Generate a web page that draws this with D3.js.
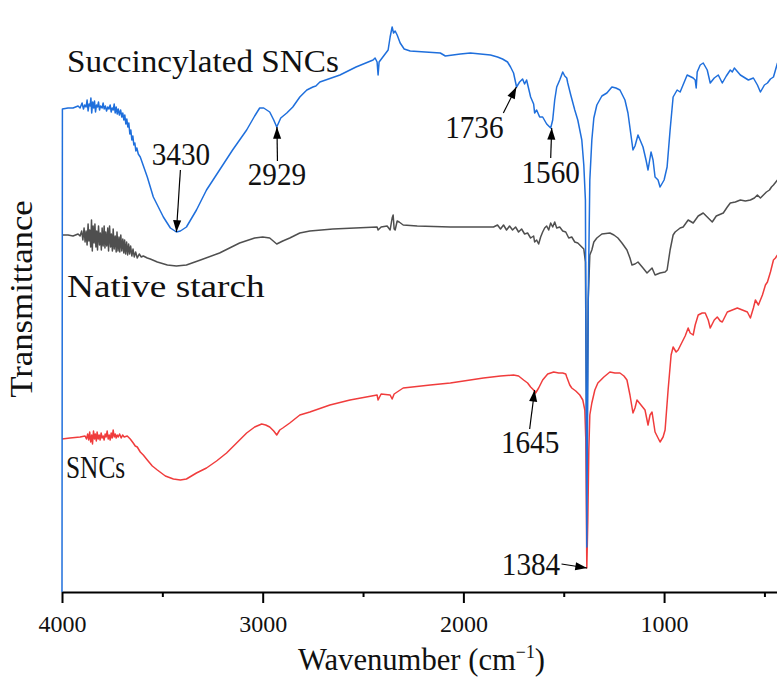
<!DOCTYPE html>
<html>
<head>
<meta charset="utf-8">
<script src="https://cdn.jsdelivr.net/npm/d3@7"></script>
<style>
  body { margin: 0; background: #fff; }
  svg { display: block; }
  svg text { font-family: 'Liberation Serif', 'DejaVu Serif', serif; }
</style>
</head>
<body>
<script>
// FTIR spectra, transmittance in arbitrary units (curves are offset)
var majorTicks = [4000, 3000, 2000, 1000];
var minorTicks = [3500, 2500, 1500, 500];

// Succincylated SNCs  [wavenumber, transmittance a.u.]
var succinylatedT = [
  [4000,0],[3998,483],[3970,484],[3945,484],[3920,486],[3910,484],[3900,489],[3893,483],[3887,487],[3880,485],
  [3875,492],[3870,481],[3865,488],[3860,486],[3856,494],[3852,479],[3847,490],[3842,484],[3838,491],[3833,480],
  [3828,487],[3823,485],[3818,490],[3813,482],[3808,486],[3800,484],[3795,489],[3790,483],[3784,486],[3778,481],
  [3772,485],[3766,483],[3760,487],[3755,480],[3750,484],[3745,482],[3740,488],[3735,479],[3730,485],[3725,478],
  [3720,483],[3714,477],[3708,482],[3702,475],[3697,479],[3692,472],[3687,477],[3682,468],[3677,473],[3672,465],
  [3667,469],[3662,458],[3657,462],[3652,452],[3647,456],[3642,447],[3637,449],[3632,441],[3627,444],[3620,438],
  [3610,435],[3575,415],[3545,395],[3495,375],[3460,364],[3430,360],[3410,361],[3380,365],[3330,382],[3280,402],
  [3215,422],[3150,442],[3080,462],[3040,476],[3015,484],[2995,484],[2965,480],[2945,472],[2930,465],[2910,474],
  [2880,479],[2850,485],[2815,495],[2780,502],[2750,505],[2735,506],[2715,510],[2615,517],[2535,525],[2450,532],
  [2440,534],[2430,530],[2425,517],[2420,530],[2405,534],[2375,542],[2365,555],[2355,565],[2348,559],[2340,561],
  [2330,557],[2315,549],[2295,543],[2265,541],[2115,539],[2090,536],[2015,538],[1965,539],[1865,537],[1830,535],
  [1805,533],[1780,530],[1765,525],[1750,519],[1735,505],[1720,510],[1705,513],[1695,508],[1685,512],[1665,495],
  [1650,488],[1645,479],[1635,482],[1620,475],[1605,475],[1585,468],[1565,464],[1555,472],[1545,492],[1535,505],
  [1520,512],[1505,520],[1495,516],[1485,514],[1480,509],[1465,497],[1445,482],[1430,472],[1410,452],[1400,427],
  [1392,392],[1385,45],[1378,292],[1370,412],[1360,452],[1350,474],[1335,487],[1310,496],[1285,499],[1260,505],
  [1240,504],[1220,502],[1195,492],[1180,479],[1155,442],[1145,446],[1130,457],[1105,445],[1090,432],[1080,422],
  [1065,440],[1055,432],[1045,415],[1030,412],[1020,405],[1000,412],[985,425],[970,462],[955,495],[935,502],
  [920,500],[885,517],[855,514],[845,512],[840,504],[835,520],[820,527],[805,529],[785,522],[770,509],
  [750,514],[730,517],[710,509],[690,516],[670,522],[660,520],[650,524],[620,517],[580,512],[555,514],
  [535,507],[520,500],[500,507],[485,509],[470,513],[455,515],[435,529]
];

// Native starch
var nativeT = [
  [4000,357],[3970,357],[3945,356],[3920,358],[3910,356],[3902,361],[3896,352],[3890,364],[3885,350],[3880,361],
  [3875,347],[3870,368],[3866,351],[3862,362],[3857,345],[3853,372],[3849,341],[3845,366],[3840,349],[3836,368],
  [3831,345],[3827,361],[3823,342],[3818,366],[3813,347],[3809,359],[3804,342],[3800,364],[3795,346],[3790,366],
  [3786,344],[3782,360],[3777,346],[3772,364],[3768,341],[3763,366],[3758,345],[3754,358],[3749,341],[3745,363],
  [3740,343],[3735,356],[3730,340],[3726,360],[3721,341],[3716,355],[3712,340],[3707,357],[3702,341],[3697,353],
  [3692,339],[3688,352],[3683,338],[3678,350],[3673,337],[3668,348],[3663,338],[3658,346],[3652,336],[3646,343],
  [3640,335],[3633,340],[3625,334],[3615,338],[3605,335],[3595,336],[3575,334],[3560,333],[3525,330],[3475,327],
  [3430,326],[3380,327],[3310,332],[3215,339],[3115,349],[3040,354],[3000,355],[2965,354],[2930,348],[2900,351],
  [2865,354],[2815,359],[2765,361],[2650,363],[2430,365],[2425,362],[2410,365],[2380,366],[2365,362],[2355,374],
  [2350,377],[2345,363],[2340,362],[2330,371],[2320,370],[2300,367],[2230,366],[2065,365],[1930,365],[1850,365],
  [1830,367],[1815,363],[1800,367],[1785,362],[1770,366],[1755,362],[1740,365],[1725,360],[1710,363],[1695,358],
  [1680,359],[1665,354],[1650,356],[1645,350],[1635,352],[1625,348],[1615,355],[1605,360],[1595,364],[1585,366],
  [1575,362],[1565,369],[1555,365],[1545,370],[1535,364],[1520,365],[1505,361],[1490,360],[1475,354],[1460,355],
  [1445,350],[1430,349],[1415,346],[1400,343],[1392,330],[1385,122],[1378,292],[1370,337],[1360,342],[1350,350],
  [1335,354],[1310,358],[1270,359],[1250,357],[1230,354],[1210,349],[1185,342],[1170,334],[1160,327],[1145,328],
  [1130,330],[1105,324],[1085,319],[1070,322],[1060,324],[1045,317],[1020,319],[995,320],[985,322],[970,342],
  [955,357],[945,360],[920,364],[905,365],[880,372],[855,369],[830,376],[805,379],[780,374],[760,370],
  [740,376],[705,379],[685,385],[670,389],[645,390],[620,392],[595,391],[570,392],[550,394],[535,397],
  [520,394],[505,397],[490,400],[475,402],[465,405],[455,407],[435,412]
];

// SNCs
var sncT = [
  [4000,153],[3960,154],[3910,155],[3885,156],[3878,153],[3872,158],[3867,152],[3862,160],[3857,150],[3852,157],
  [3848,148],[3843,161],[3838,153],[3834,158],[3829,151],[3825,160],[3820,153],[3815,157],[3810,152],[3805,159],
  [3800,154],[3795,156],[3790,152],[3785,158],[3780,155],[3775,161],[3770,153],[3765,157],[3760,152],[3755,159],
  [3750,154],[3745,162],[3740,155],[3735,158],[3730,154],[3725,157],[3720,155],[3713,158],[3705,154],[3698,157],
  [3690,155],[3675,156],[3660,153],[3645,149],[3635,146],[3625,145],[3610,140],[3595,137],[3575,132],[3550,126],
  [3525,122],[3485,116],[3445,113],[3410,112],[3380,113],[3330,119],[3280,124],[3230,131],[3180,139],[3130,149],
  [3080,159],[3040,165],[3005,168],[2985,167],[2965,165],[2945,161],[2930,157],[2915,162],[2900,164],[2865,169],
  [2815,177],[2765,180],[2665,187],[2565,192],[2430,197],[2425,192],[2410,198],[2365,197],[2355,193],[2345,198],
  [2330,200],[2300,204],[2165,207],[2065,209],[1900,214],[1815,216],[1750,217],[1725,216],[1700,212],[1680,209],
  [1665,205],[1650,202],[1640,199],[1625,204],[1605,212],[1580,218],[1550,220],[1525,219],[1505,219],[1490,218],
  [1485,215],[1470,207],[1460,204],[1440,201],[1420,197],[1405,192],[1395,182],[1390,152],[1385,24],[1380,72],
  [1375,142],[1370,177],[1360,189],[1345,202],[1330,209],[1300,215],[1270,220],[1245,219],[1220,219],[1200,216],
  [1185,212],[1170,197],[1155,179],[1145,184],[1135,192],[1115,187],[1095,182],[1080,167],[1070,177],[1060,180],
  [1045,160],[1030,154],[1020,150],[1005,155],[995,162],[980,202],[965,237],[955,245],[940,240],[930,242],
  [910,250],[895,256],[880,264],[870,259],[855,257],[845,267],[830,277],[810,279],[795,279],[780,272],
  [770,264],[750,272],[735,275],[720,271],[710,270],[695,276],[685,280],[660,282],[635,284],[610,282],
  [585,280],[570,274],[555,284],[545,292],[530,287],[510,297],[495,307],[485,310],[470,320],[455,332],
  [445,334],[435,337]
];

var peakWavenumbers = [3430, 2929, 1736, 1560, 1645, 1384];
var peakSeries = ["succ", "succ", "succ", "succ", "snc", "snc"];

var width = 777, height = 677;
var axisY = 592;
var font = "'Liberation Serif', 'DejaVu Serif', serif";
var colorBlue = "#1f6fdc", colorGray = "#4f4f4f", colorRed = "#f03c3c";

var svg = d3.select("body").append("svg")
    .attr("width", width)
    .attr("height", height);

var x = d3.scaleLinear().domain([4000, 400]).range([62, 784.5]);
var y = d3.scaleLinear().domain([0, 592]).range([axisY, 0]);

var line = d3.line()
    .x(function(d) { return x(d[0]); })
    .y(function(d) { return y(d[1]); });

// helper: SimSun-like halfwidth text (fixed advance per char)
function label(txt, px, py, size, adv, anchor) {
  return svg.append("text")
      .attr("x", px)
      .attr("y", py)
      .attr("text-anchor", anchor || "start")
      .attr("font-size", size)
      .attr("textLength", txt.length * adv)
      .attr("lengthAdjust", "spacingAndGlyphs")
      .style("fill", "#111")
      .text(txt);
}

//*********** spectra *******************
var series = [
  {key: "native", data: nativeT, color: colorGray},
  {key: "snc", data: sncT, color: colorRed},
  {key: "succ", data: succinylatedT, color: colorBlue}
];
svg.selectAll("path.spectrum")
    .data(series)
    .enter().append("path")
    .attr("class", "spectrum")
    .attr("d", function(d) { return line(d.data); })
    .attr("fill", "none")
    .attr("stroke", function(d) { return d.color; })
    .attr("stroke-width", 1.5)
    .attr("stroke-linejoin", "round");

//*********** x axis *******************
var axis = svg.append("g")
    .attr("transform", "translate(0," + axisY + ")")
    .call(d3.axisBottom(x).tickValues(majorTicks).tickSize(11).tickSizeOuter(0).tickFormat(d3.format("d")));
axis.select(".domain").attr("stroke", "#000").attr("stroke-width", 2);
axis.selectAll(".tick line").attr("stroke", "#000").attr("stroke-width", 2);
axis.selectAll(".tick text")
    .attr("y", 40)
    .attr("dy", null)
    .attr("font-size", 23)
    .attr("textLength", 48)
    .attr("lengthAdjust", "spacingAndGlyphs")
    .style("font-family", font)
    .style("fill", "#111");

var minor = svg.append("g")
    .attr("transform", "translate(0," + axisY + ")")
    .call(d3.axisBottom(x).tickValues(minorTicks).tickSize(5).tickSizeOuter(0).tickFormat(""));
minor.select(".domain").remove();
minor.selectAll(".tick line").attr("stroke", "#000").attr("stroke-width", 2);

// axis titles
var xTitle = svg.append("text")
    .attr("x", 298)
    .attr("y", 670)
    .attr("font-size", 31)
    .attr("textLength", 247)
    .attr("lengthAdjust", "spacingAndGlyphs")
    .style("fill", "#111");
xTitle.append("tspan").text("Wavenumber (cm");
xTitle.append("tspan").attr("dy", -12).attr("font-size", 18).text("\u22121");
xTitle.append("tspan").attr("dy", 12).text(")");

svg.append("text")
    .attr("transform", "translate(32,299) rotate(-90)")
    .attr("text-anchor", "middle")
    .attr("font-size", 31)
    .attr("textLength", 13 * 15.2)
    .attr("lengthAdjust", "spacingAndGlyphs")
    .style("fill", "#111")
    .text("Transmittance");

// series names
label("Succincylated SNCs", 67, 72, 31, 15.1);
label("Native starch", 67, 297, 31, 15.2);
label("SNCs", 66, 478, 31, 14.8);

//*********** peak arrows *******************
var defs = svg.append("defs");
defs.append("marker")
    .attr("id", "arrow")
    .attr("markerUnits", "userSpaceOnUse")
    .attr("viewBox", "0 -5 13 10")
    .attr("refX", 13)
    .attr("refY", 0)
    .attr("markerWidth", 13)
    .attr("markerHeight", 9)
    .attr("orient", "auto")
    .append("path")
    .attr("d", "M0,-4.5L13,0L0,4.5Z")
    .attr("fill", "#000");

// tail and text offsets relative to the arrow tip
var arrowTail = [[4, -62], [0.5, 34], [-13, 26], [-1, 30], [-5, 39], [-25.5, -4]];
var textPos = [[4.5, -67], [0, 58], [-42, 51], [-1, 55], [-4.5, 63], [-56, 7]];
var seriesData = {succ: succinylatedT, snc: sncT, native: nativeT};

peakWavenumbers.forEach(function(wn, i) {
  var data = seriesData[peakSeries[i]];
  var near = d3.least(data, function(d) { return Math.abs(d[0] - wn); });
  var tx = x(wn), ty = y(near[1]);
  svg.append("line")
      .attr("x1", tx + arrowTail[i][0])
      .attr("y1", ty + arrowTail[i][1])
      .attr("x2", tx)
      .attr("y2", ty)
      .attr("stroke", "#000")
      .attr("stroke-width", 1.2)
      .attr("marker-end", "url(#arrow)");
  label(String(wn), tx + textPos[i][0], ty + textPos[i][1], 31, 14.6, "middle");
});
</script>
</body>
</html>
